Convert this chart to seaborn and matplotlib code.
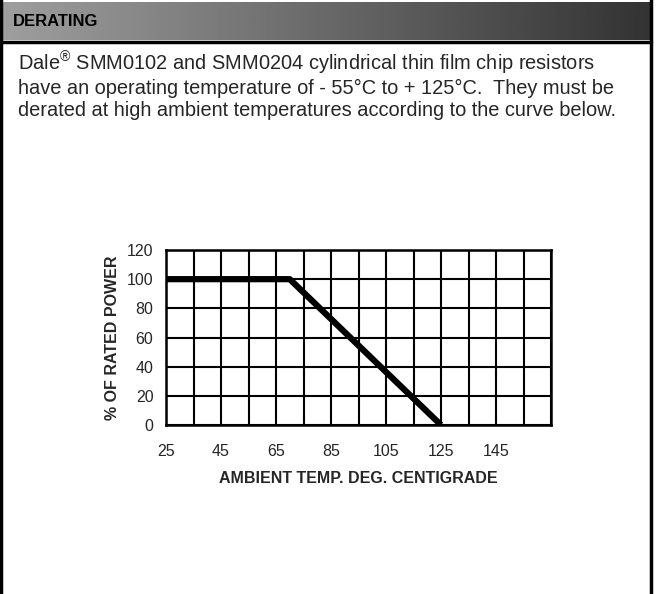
import numpy as np
import pandas as pd
import matplotlib
matplotlib.use("Agg")
import matplotlib.pyplot as plt
import seaborn as sns
from matplotlib.patches import Rectangle

# derating curve
temp = [25, 70, 125]
power = [100, 100, 0]

x_ticks = [25, 45, 65, 85, 105, 125, 145]
y_ticks = [0, 20, 40, 60, 80, 100, 120]

intro_lines = [
    "Dale$^{\\mathrm{\u00ae}}$ SMM0102 and SMM0204 cylindrical thin film chip resistors",
    "have an operating temperature of - 55\u00b0C to + 125\u00b0C.  They must be",
    "derated at high ambient temperatures according to the curve below.",
]

sns.set_style("white")
plt.rcParams['font.family'] = ['Liberation Sans', 'DejaVu Sans']
plt.rcParams['mathtext.fontset'] = 'custom'
plt.rcParams['mathtext.rm'] = 'Liberation Sans'

fig = plt.figure(figsize=(6.56, 5.94), dpi=100)

# page frame and header band
fig.patches.append(Rectangle((0.002, -0.01), 0.991, 1.02, transform=fig.transFigure,
                             fill=False, edgecolor='black', linewidth=2.5))
grad = np.linspace(0.62, 0.2, 256).reshape(1, -1)
hax = fig.add_axes([0.003, 1 - 40 / 594, 0.99, 38 / 594])
hax.imshow(grad, aspect='auto', cmap='gray', vmin=0, vmax=1)
hax.axis('off')
fig.text(0.02, 1 - 21 / 594, "DERATING", fontsize=12, fontweight='heavy',
         color='black', va='center')
fig.add_artist(plt.Line2D([0.0, 0.993], [1 - 42 / 594, 1 - 42 / 594],
                          transform=fig.transFigure, color='black', linewidth=2.5))

for i, line in enumerate(intro_lines):
    fig.text(18 / 656, 1 - (71 + 22.5 * i) / 594, line, fontsize=14.4, va='baseline')

ax = fig.add_axes([166 / 656, 1 - 425 / 594, 385 / 656, 175 / 594])
df = pd.DataFrame({"temp": temp, "power": power})
sns.lineplot(data=df, x="temp", y="power", ax=ax, color='black', linewidth=4.5,
             solid_capstyle='butt', zorder=5)

ax.set_xlim(25, 165)
ax.set_ylim(0, 120)
ax.set_xticks(np.arange(25, 166, 10), minor=False)
ax.set_xticklabels([str(t) if t in x_ticks else "" for t in range(25, 166, 10)])
ax.set_yticks(y_ticks)
ax.set_yticklabels([str(t) for t in y_ticks])
ax.grid(True, color='black', linewidth=1.5)
ax.set_axisbelow(True)
for s in ax.spines.values():
    s.set_color('black')
    s.set_linewidth(1.8)
ax.tick_params(axis='x', length=0, labelsize=11.5, pad=14)
ax.tick_params(axis='y', length=0, labelsize=11.5, pad=9)
ax.set_xlabel("AMBIENT TEMP. DEG. CENTIGRADE", fontsize=11.5, fontweight='bold', labelpad=8)
ax.set_ylabel("% OF RATED POWER", fontsize=11.5, fontweight='bold', labelpad=5)

fig.savefig("out.png", dpi=100)
